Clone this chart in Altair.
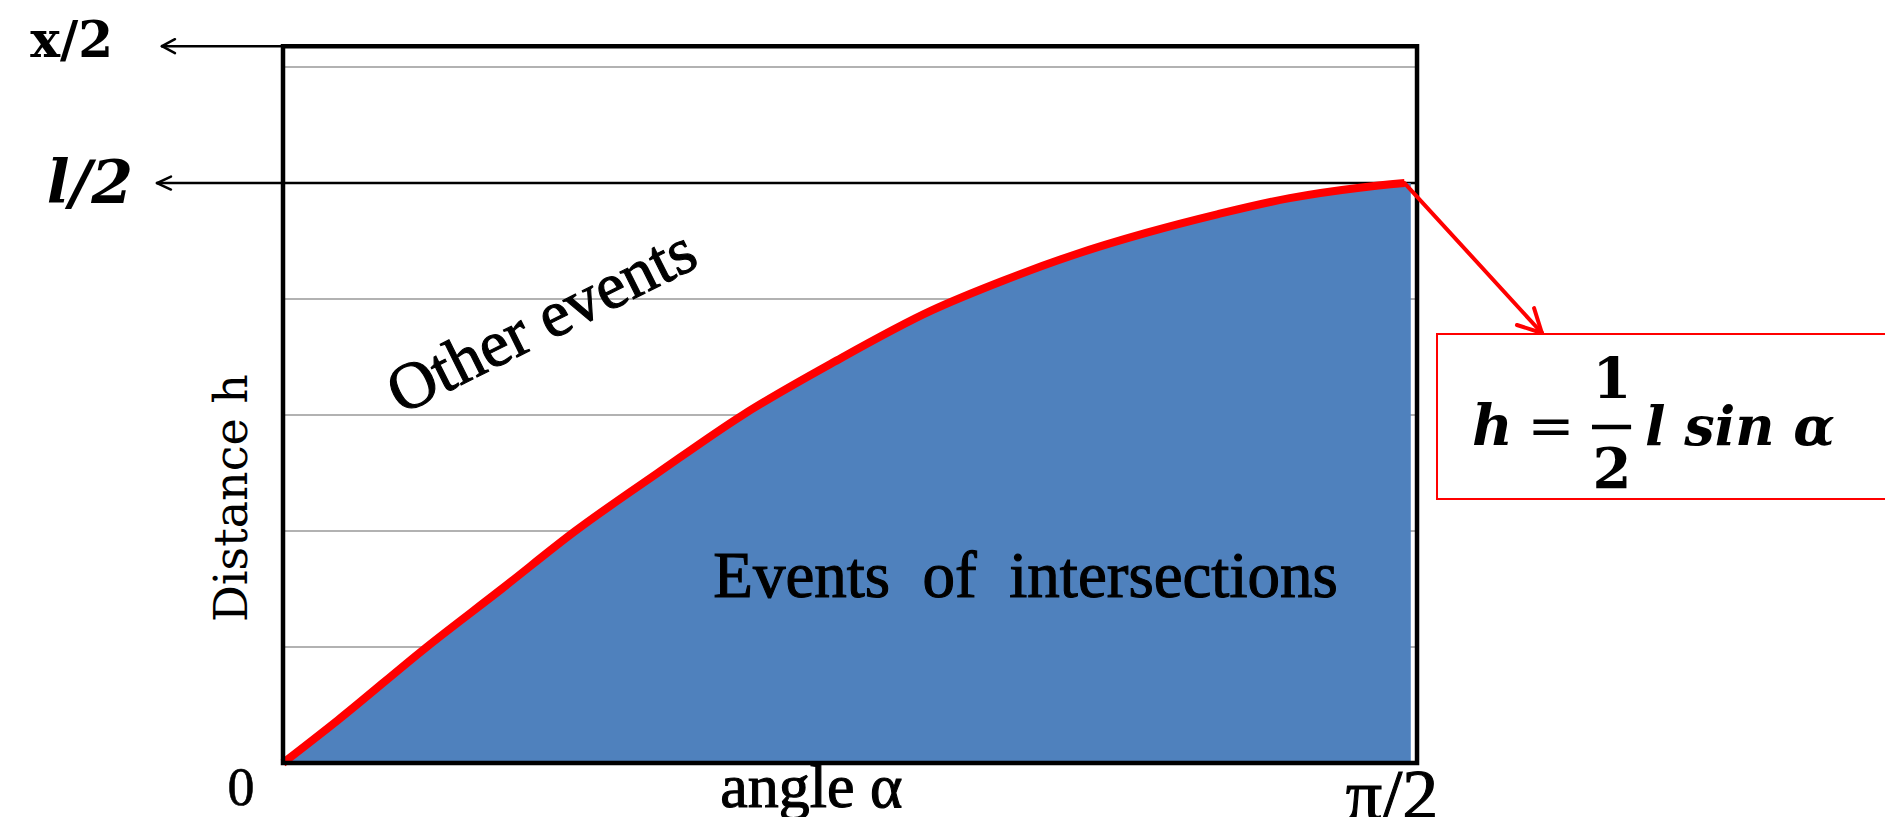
import altair as alt
import pandas as pd

# ---------------- values ----------------
# angle in degrees (0 .. pi/2 = 90), distance h in grid units (l/2 = 5)
angle_deg = [0, 4.4, 11.5, 17.5, 23.4, 30.0, 36.8, 44.0, 51.9, 57.7,
             63.3, 69.1, 74.8, 80.6, 86.2, 89.8]
h_dist = [0, 0.37, 1.0, 1.5, 2.0, 2.5, 3.0, 3.45, 3.9, 4.16,
          4.38, 4.57, 4.73, 4.87, 4.96, 5.0]
area_end = [90.3, 5.0]          # blue fill reaches slightly past the red curve
grid_levels = [1, 2, 3, 4, 6]
half_l = 5.0                    # l/2
half_x = 6.18                   # x/2 (top of frame)
angle_max = 90.8                # right edge of frame
mid_tick = 42.8

# text
x_ticks = ["0", "π/2"]
x_title = "angle α"
y_ticks = ["x/2", "l/2"]
y_title = "Distance h"
region_labels = ["Other events", "Events  of  intersections"]
formula_parts = ["h", "=", "1", "2", "l sin α"]

# ---------------- scales covering the whole canvas ----------------
W, H = 1877, 809
xs = alt.Scale(domain=[-22.019, 128.27], nice=False, zero=False)
ys = alt.Scale(domain=[-0.4655, 6.509], nice=False, zero=False)


def X(f="x"):
    return alt.X(f"{f}:Q", scale=xs, axis=None)


def Y(f="y"):
    return alt.Y(f"{f}:Q", scale=ys, axis=None)


def rules(rows, color, width, cap="butt"):
    df = pd.DataFrame(rows, columns=["x", "y", "x2", "y2"])
    return alt.Chart(df).mark_rule(color=color, strokeWidth=width, strokeCap=cap).encode(
        x=X(), y=Y(), x2="x2:Q", y2="y2:Q")


def label(x, y, t, **kw):
    df = pd.DataFrame({"x": [x], "y": [y], "t": [t.replace("  ", " \u00a0")]})
    return alt.Chart(df).mark_text(**kw).encode(x=X(), y=Y(), text="t:N")


curve = pd.DataFrame({"x": angle_deg, "y": h_dist})
area_df = pd.DataFrame({"x": angle_deg + [area_end[0]], "y": h_dist + [area_end[1]]})
area_df["base"] = 0.0

# gridlines
grid = rules([[0, g, angle_max, g] for g in grid_levels], "#999999", 1.5)

# l/2 line with arrow to the left, x/2 arrow
half_l_line = rules([[-10.09, half_l, angle_max, half_l],
                     [-10.09, half_l, -8.97, half_l + 0.056],
                     [-10.09, half_l, -8.97, half_l - 0.056]], "black", 2.5, cap="round")
half_x_line = rules([[-9.69, half_x, 0, half_x],
                     [-9.69, half_x, -8.65, half_x + 0.06],
                     [-9.69, half_x, -8.65, half_x - 0.06]], "black", 2.5, cap="round")

area = alt.Chart(area_df).mark_area(color="#4F81BD", opacity=1, interpolate="monotone").encode(
    x=X(), y=Y(), y2="base:Q")
line = alt.Chart(curve).mark_line(color="#FF0000", strokeWidth=8, interpolate="monotone",
                                  strokeCap="butt").encode(x=X(), y=Y())

frame_df = pd.DataFrame({"x": [0], "x2": [angle_max], "y": [0], "y2": [half_x]})
frame = alt.Chart(frame_df).mark_rect(filled=False, stroke="black", strokeWidth=4.5).encode(
    x=X(), x2="x2:Q", y=Y(), y2="y2:Q")

tick = rules([[mid_tick, 0, mid_tick, -0.08]], "black", 2.5)

# red arrow to formula box
red_arrow = rules([[89.8, 5.0, 100.8, 3.707],
                   [100.8, 3.707, 98.8, 3.776],
                   [100.8, 3.707, 100.17, 3.922]], "#FF0000", 4, cap="round")

box_df = pd.DataFrame({"x": [92.4], "x2": [130.0], "y": [2.276], "y2": [3.698]})
box = alt.Chart(box_df).mark_rect(fill="white", stroke="#FF0000", strokeWidth=2).encode(
    x=X(), x2="x2:Q", y=Y(), y2="y2:Q")
frac_bar = rules([[104.81, 2.897, 107.94, 2.897]], "black", 4.5)

serif = "Liberation Serif"
wide = "DejaVu Serif"
heavy = dict(font=serif, stroke="black", strokeWidth=1.1)
texts = [
    label(-3.36, -0.36, x_ticks[0], fontSize=54, align="center", baseline="alphabetic",
          font=serif, stroke="black", strokeWidth=0.6),
    label(85.1, -0.48, x_ticks[1], fontSize=72, align="left", baseline="alphabetic", **heavy),
    label(42.3, -0.38, x_title, fontSize=62, align="center", baseline="alphabetic", **heavy),
    label(-13.61, 6.09, y_ticks[0], font=wide, fontSize=50, fontWeight="bold", align="right",
          baseline="alphabetic"),
    label(-12.0, 4.83, y_ticks[1], font=wide, fontSize=60, fontWeight="bold", fontStyle="italic",
          align="right", baseline="alphabetic"),
    label(-2.88, 2.284, y_title, font=wide, fontSize=46, angle=270, align="center",
          baseline="alphabetic"),
    label(20.74, 3.80, region_labels[0], fontSize=66, angle=333.5, align="center",
          baseline="middle", **heavy),
    label(59.45, 1.431, region_labels[1], fontSize=65, align="center",
          baseline="alphabetic", **heavy),
    label(95.2, 2.741, formula_parts[0], font=wide, fontSize=56, fontWeight="bold",
          fontStyle="italic", align="left", baseline="alphabetic"),
    label(101.53, 2.741, formula_parts[1], font=wide, fontSize=56,
          align="center", baseline="alphabetic"),
    label(106.41, 3.147, formula_parts[2], font=wide, fontSize=56, fontWeight="bold",
          align="center", baseline="alphabetic"),
    label(106.41, 2.371, formula_parts[3], font=wide, fontSize=56, fontWeight="bold",
          align="center", baseline="alphabetic"),
    label(109.05, 2.741, formula_parts[4], font=wide, fontSize=54, fontWeight="bold",
          fontStyle="italic", align="left", baseline="alphabetic"),
]

chart = alt.layer(
    grid, half_l_line, half_x_line, area, line, frame, tick, red_arrow, box, frac_bar, *texts
).properties(
    width=W, height=H, autosize=alt.AutoSizeParams(type="none"), padding=0,
    background="white"
).configure_view(strokeWidth=0)

chart.save("out.html", embed_options={"renderer": "svg", "actions": False})
